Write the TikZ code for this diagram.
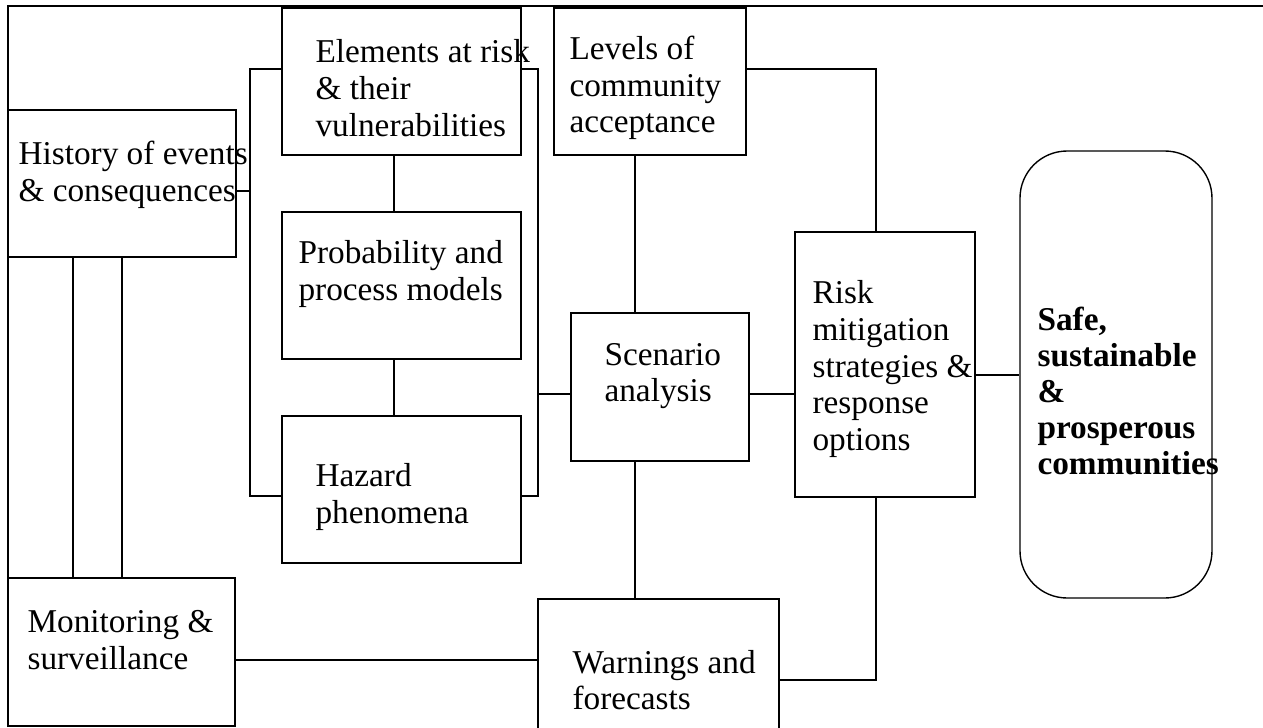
\documentclass[tikz,border=0pt]{standalone}
\usepackage{fontspec}
\setmainfont{Liberation Serif}
\newcommand{\pu}{0.3605pt}
\begin{document}
\begin{tikzpicture}[x=0.3605pt, y=-0.3605pt,
  box/.style={draw, line width=0.5pt, inner sep=0pt},
  txt/.style={anchor=west, align=left, inner sep=0pt, font=\fontsize{12pt}{13.2pt}\selectfont},
  link/.style={line width=0.5pt}]
\useasboundingbox (0,0) rectangle (1263,727);
\clip (0,0) rectangle (1263,727);
\draw[line width=1pt] (8,727) -- (8,6) -- (1263,6);
\node[box, minimum width=228*\pu, minimum height=147*\pu] (hist) at (122,183.5) {};
\node[box, minimum width=239*\pu, minimum height=147*\pu] (elem) at (401.5,81.5) {};
\node[box, minimum width=239*\pu, minimum height=147*\pu] (prob) at (401.5,285.5) {};
\node[box, minimum width=239*\pu, minimum height=147*\pu] (haz) at (401.5,489.5) {};
\node[box, minimum width=192*\pu, minimum height=147*\pu] (levels) at (650,81.5) {};
\node[box, minimum width=178*\pu, minimum height=148*\pu] (scen) at (660,387) {};
\node[box, minimum width=180*\pu, minimum height=265*\pu] (risk) at (885,364.5) {};
\node[box, rounded corners=17pt, minimum width=192*\pu, minimum height=447*\pu] (safe) at (1116,374.5) {};
\node[box, minimum width=227*\pu, minimum height=148*\pu] (mon) at (121.5,652) {};
\node[box, minimum width=241*\pu, minimum height=148*\pu] (warn) at (658.5,673) {};
\node[txt] (histtext) at (18,175) {History of events\\\& consequences};
\node[txt] (elemtext) at (315,88) {Elements at risk\\\& their\\vulnerabilities};
\node[txt] (probtext) at (298,274) {Probability and\\process models};
\node[txt] (haztext) at (315,497) {Hazard\\phenomena};
\node[txt] (levelstext) at (569,88) {Levels of\\community\\acceptance};
\node[txt] (scentext) at (604,376) {Scenario\\analysis};
\node[txt] (risktext) at (812,369) {Risk\\mitigation\\strategies \&\\response\\options};
\node[txt, font=\fontsize{12pt}{13pt}\selectfont\bfseries] (safetext) at (1037,391) {Safe,\\sustainable\\\&\\prosperous\\communities};
\node[txt] (montext) at (27,640) {Monitoring \&\\surveillance};
\node[txt] (warntext) at (572,680) {Warnings and\\forecasts};
\coordinate (lh) at (250,191);
\coordinate (lbt) at (250,69);
\coordinate (lbb) at (250,496);
\coordinate (rbt) at (538,69);
\coordinate (rbb) at (538,496);
\coordinate (rbm) at (538,394);
\coordinate (mx) at (394,300);
\coordinate (sx) at (635,300);
\coordinate (rt) at (876,69);
\coordinate (rb) at (876,680);
\coordinate (sy) at (1000,375);
\coordinate (my) at (400,660);
\coordinate (v1) at (73,400);
\coordinate (v2) at (122,400);
\draw[link] (hist.east |- lh) -- (lh);
\draw[link] (elem.west |- lbt) -- (lbt) -- (lbb) -- (haz.west |- lbb);
\draw[link] (elem.south -| mx) -- (prob.north -| mx);
\draw[link] (prob.south -| mx) -- (haz.north -| mx);
\draw[link] (elem.east |- rbt) -- (rbt) -- (rbb) -- (haz.east |- rbb);
\draw[line width=0.8pt] (rbm) -- (scen.west |- rbm);
\draw[link] (levels.south -| sx) -- (scen.north -| sx);
\draw[link] (levels.east |- rt) -- (rt) -- (risk.north -| rt);
\draw[link] (scen.east |- rbm) -- (risk.west |- rbm);
\draw[link] (risk.east |- sy) -- (safe.west |- sy);
\draw[link] (scen.south -| sx) -- (warn.north -| sx);
\draw[link] (risk.south -| rt) -- (rb) -- (warn.east |- rb);
\draw[link] (mon.east |- my) -- (warn.west |- my);
\draw[link] (hist.south -| v1) -- (mon.north -| v1);
\draw[link] (hist.south -| v2) -- (mon.north -| v2);
\end{tikzpicture}
\end{document}
